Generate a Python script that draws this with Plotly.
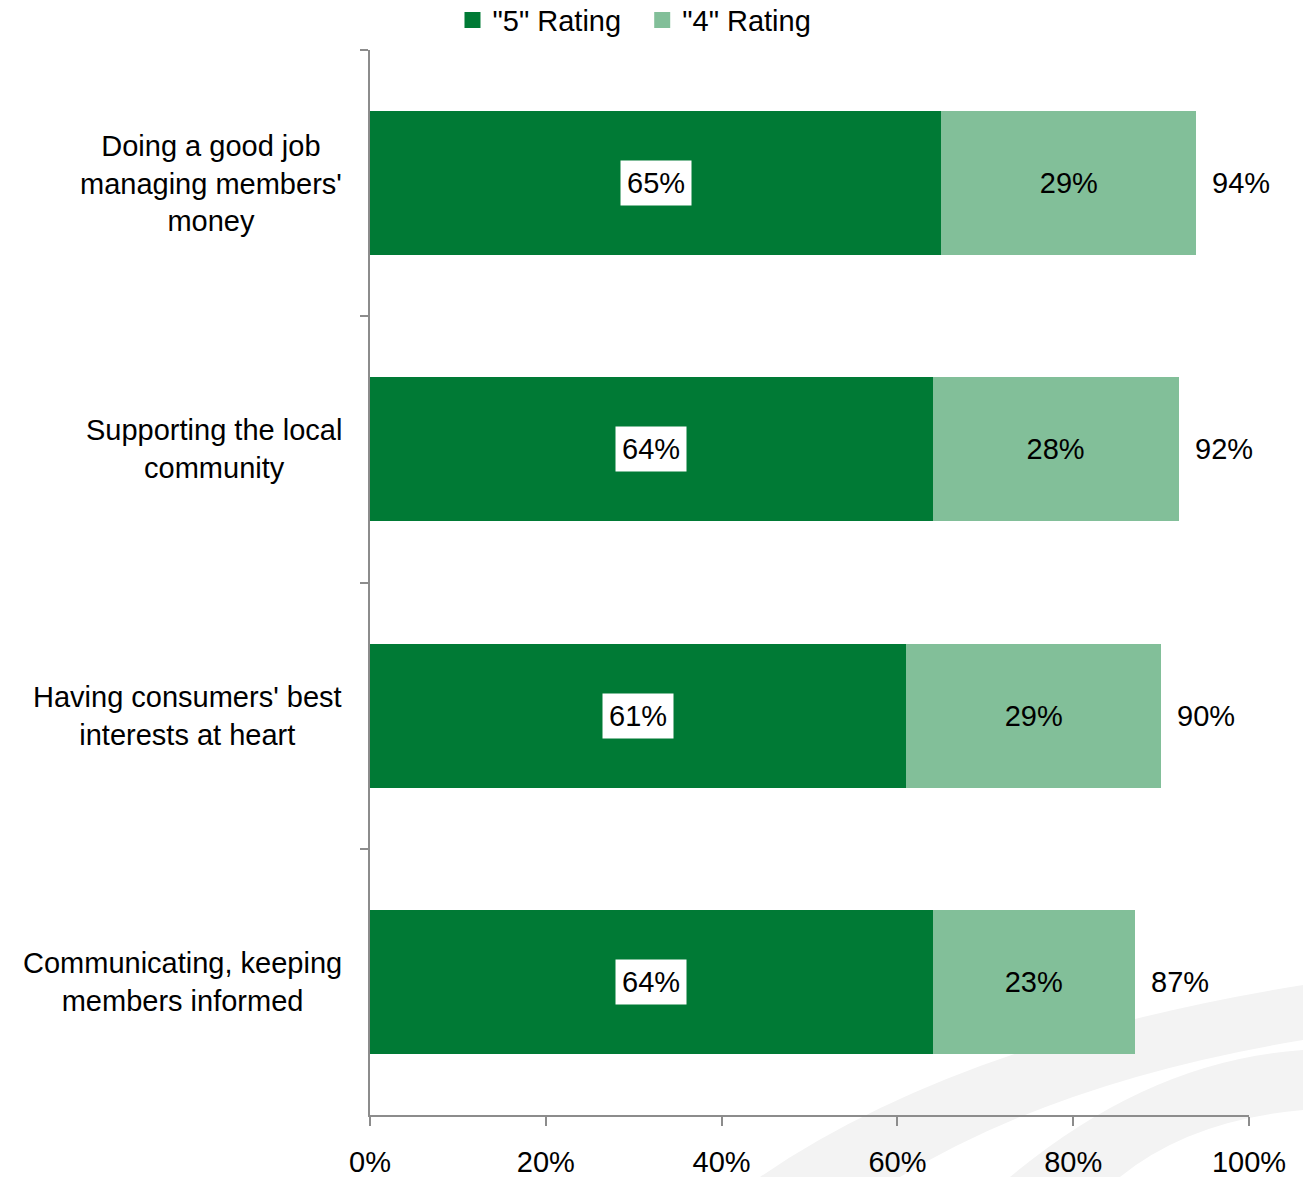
import plotly.graph_objects as go

# Survey statements (top to bottom) and share of ratings
categories = [
    "Doing a good job<br>managing members'<br>money",
    "Supporting the local<br>community",
    "Having consumers' best<br>interests at heart",
    "Communicating, keeping<br>members informed",
]
rating5 = [65, 64, 61, 64]
rating4 = [29, 28, 29, 23]
totals = [94, 92, 90, 87]
series_names = ['"5" Rating', '"4" Rating']
x_ticks = [0, 20, 40, 60, 80, 100]
x_tick_labels = ["0%", "20%", "40%", "60%", "80%", "100%"]

DARK = "#007A35"
LIGHT = "#82BF99"
AXIS = "#8C8C8C"
FONT = "Liberation Sans"
FS = 29

fig = go.Figure()

fig.add_trace(go.Bar(
    y=categories, x=rating5, orientation="h", name=series_names[0],
    marker=dict(color=DARK, line=dict(width=0)), hoverinfo="skip",
    showlegend=False,
))
fig.add_trace(go.Bar(
    y=categories, x=rating4, orientation="h", name=series_names[1],
    marker=dict(color=LIGHT, line=dict(width=0)),
    text=[f"{v}%" for v in rating4], textposition="inside",
    insidetextanchor="middle", textangle=0,
    textfont=dict(family=FONT, size=FS, color="black"), hoverinfo="skip",
    showlegend=False,
))

# legend entries with larger square swatches
for name, color in zip(series_names, [DARK, LIGHT]):
    fig.add_trace(go.Scatter(
        x=[None], y=[None], mode="markers", name=name + "  ",
        marker=dict(symbol="square", size=16, color=color),
        hoverinfo="skip",
    ))

annotations = []
for cat, v5, v4, tot in zip(categories, rating5, rating4, totals):
    # white boxed label centred on the dark segment
    annotations.append(dict(
        x=v5 / 2, y=cat, xref="x", yref="y", text=f"{v5}%", showarrow=False,
        font=dict(family=FONT, size=FS, color="black"), bgcolor="white",
        borderpad=6,
    ))
    # total to the right of each bar
    annotations.append(dict(
        x=tot, y=cat, xref="x", yref="y", text=f"{tot}%", showarrow=False,
        xanchor="left", xshift=14,
        font=dict(family=FONT, size=FS, color="black"),
    ))
    # category label, lines centred on one another
    annotations.append(dict(
        x=0, y=cat, xref="paper", yref="y", text=cat, showarrow=False,
        xanchor="right", xshift=-26, align="center",
        font=dict(family=FONT, size=FS, color="black"),
    ))

# faint swoosh emblem in the lower right corner
def px(xp, yp):
    return (xp - 370) / 879, (1115 - yp) / 1065

def path(points):
    pts = [px(a, b) for a, b in points]
    d = f"M {pts[0][0]:.4f},{pts[0][1]:.4f}"
    for i in range(1, len(pts) - 1, 2):
        c = pts[i]
        e = pts[i + 1]
        d += f" Q {c[0]:.4f},{c[1]:.4f} {e[0]:.4f},{e[1]:.4f}"
    return d + " Z"

shapes = [
    dict(type="path", xref="paper", yref="paper", layer="below",
         path=path([(760, 1177), (960, 1040), (1303, 985),
                    (1303, 1020), (1303, 1040),
                    (1060, 1080), (900, 1177)]),
         fillcolor="#F3F3F3", line=dict(width=0)),
    dict(type="path", xref="paper", yref="paper", layer="below",
         path=path([(1010, 1177), (1150, 1060), (1303, 1050),
                    (1303, 1090), (1303, 1110),
                    (1190, 1120), (1120, 1177)]),
         fillcolor="#F3F3F3", line=dict(width=0)),
]

fig.update_layout(
    barmode="stack",
    bargap=0.46,
    width=1303, height=1177,
    margin=dict(l=370, r=54, t=50, b=62, autoexpand=False),
    paper_bgcolor="white", plot_bgcolor="rgba(0,0,0,0)",
    font=dict(family=FONT, size=FS, color="black"),
    showlegend=True,
    legend=dict(
        orientation="h",
        x=0.31, xanchor="center", y=1.052, yanchor="top",
        traceorder="normal",
        font=dict(family=FONT, size=FS), itemwidth=30,
        bgcolor="rgba(0,0,0,0)",
    ),
    annotations=annotations,
    shapes=shapes,
)

fig.update_xaxes(
    range=[0, 100], tickvals=x_ticks, ticktext=x_tick_labels,
    showgrid=False, zeroline=False, showline=True, linecolor=AXIS, linewidth=2,
    ticks="outside", ticklen=9, tickcolor=AXIS, tickwidth=2,
    tickfont=dict(family=FONT, size=FS, color="black"),
    ticklabelstandoff=11, fixedrange=True, automargin=False,
)
fig.update_yaxes(
    categoryorder="array", categoryarray=categories, autorange="reversed",
    showgrid=False, zeroline=False, showline=True, linecolor=AXIS, linewidth=2,
    ticks="outside", ticklen=8, tickcolor=AXIS, tickwidth=2,
    tickson="boundaries", showticklabels=False, fixedrange=True,
    automargin=False,
)

fig.write_html("out.html")
